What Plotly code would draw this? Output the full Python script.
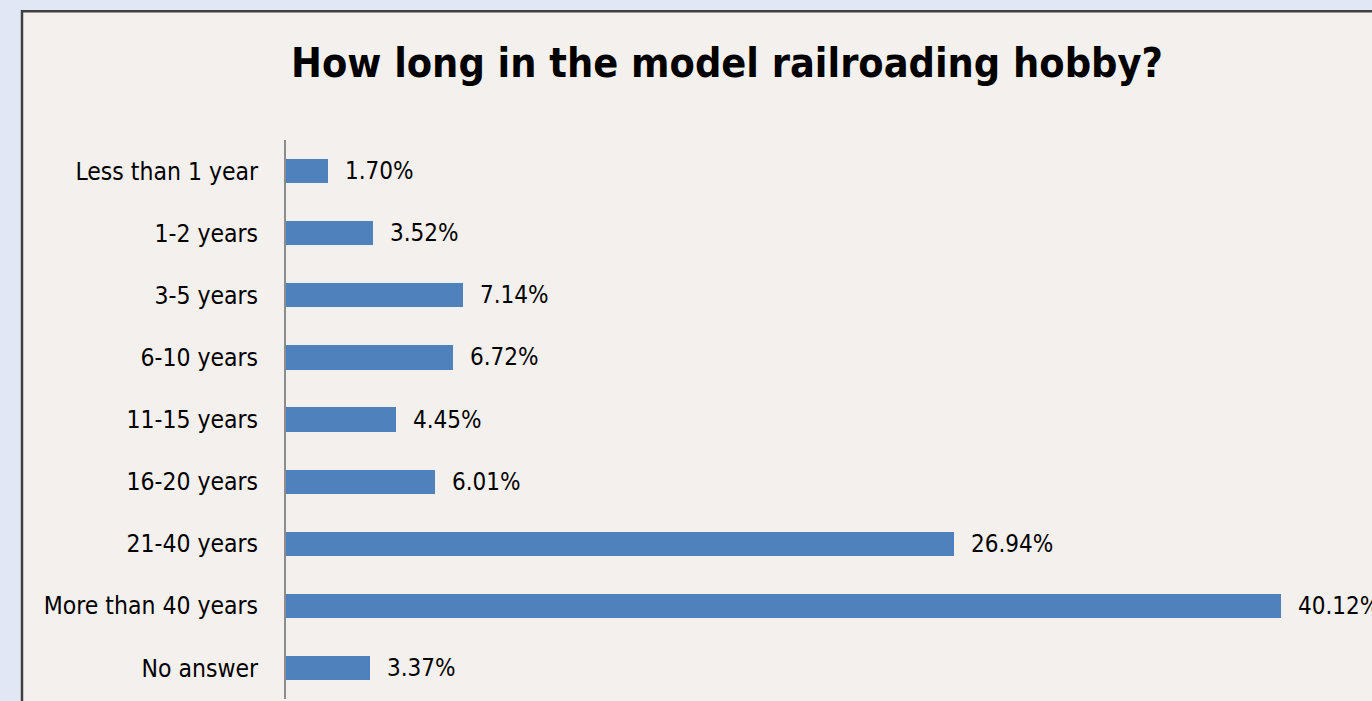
import plotly.graph_objects as go

categories = ["Less than 1 year", "1-2 years", "3-5 years", "6-10 years", "11-15 years",
              "16-20 years", "21-40 years", "More than 40 years", "No answer"]
values = [1.70, 3.52, 7.14, 6.72, 4.45, 6.01, 26.94, 40.12, 3.37]
value_labels = ["1.70%", "3.52%", "7.14%", "6.72%", "4.45%", "6.01%", "26.94%", "40.12%", "3.37%"]
title_text = "How long in the model railroading hobby?"

W, H = 1372, 701
L, R, T, B = 286, 0, 140, 2
pw, ph = W - L - R, H - T - B

FONT = "Liberation Sans Narrow, DejaVu Sans Condensed, sans-serif"

fig = go.Figure(go.Bar(
    x=values, y=categories, orientation="h",
    marker=dict(color="#4f81bd", line=dict(width=0)),
    width=0.39, hoverinfo="skip",
))

for c, v, t in zip(categories, values, value_labels):
    fig.add_annotation(x=v, y=c, xref="x", yref="y", text=t, showarrow=False,
                       xanchor="left", yanchor="middle", xshift=15,
                       font=dict(family=FONT, size=24, color="#000000"))

fig.add_shape(type="rect", xref="paper", yref="paper",
              x0=(22 - L) / pw, x1=1.5, y0=-0.5, y1=(H - B - 11.3) / ph,
              fillcolor="#f3f0ed", line=dict(color="#404040", width=2.5), layer="below")

fig.update_layout(
    width=W, height=H,
    margin=dict(l=L, r=R, t=T, b=B, pad=0),
    paper_bgcolor="#e1e7f5",
    plot_bgcolor="rgba(0,0,0,0)",
    showlegend=False,
    bargap=0,
    title=dict(text="<b>" + title_text + "</b>", x=727 / W, xanchor="center",
               y=1 - 63 / H, yanchor="middle", yref="container",
               font=dict(family=FONT, size=41, color="#000000")),
    xaxis=dict(range=[0, pw / ((1281 - L) / 40.12)], visible=False, fixedrange=True),
    yaxis=dict(autorange="reversed", showline=True, linecolor="#8c8c8c", linewidth=2,
               showgrid=False, zeroline=False, ticks="", ticklabelstandoff=21,
               tickfont=dict(family=FONT, size=24.5, color="#000000"), fixedrange=True),
)

fig.write_html("out.html",
               config={"displayModeBar": False},
               post_script="document.body.style.margin='0';"
                           "document.body.style.overflow='hidden';"
                           "document.body.style.background='#e1e7f5';")
